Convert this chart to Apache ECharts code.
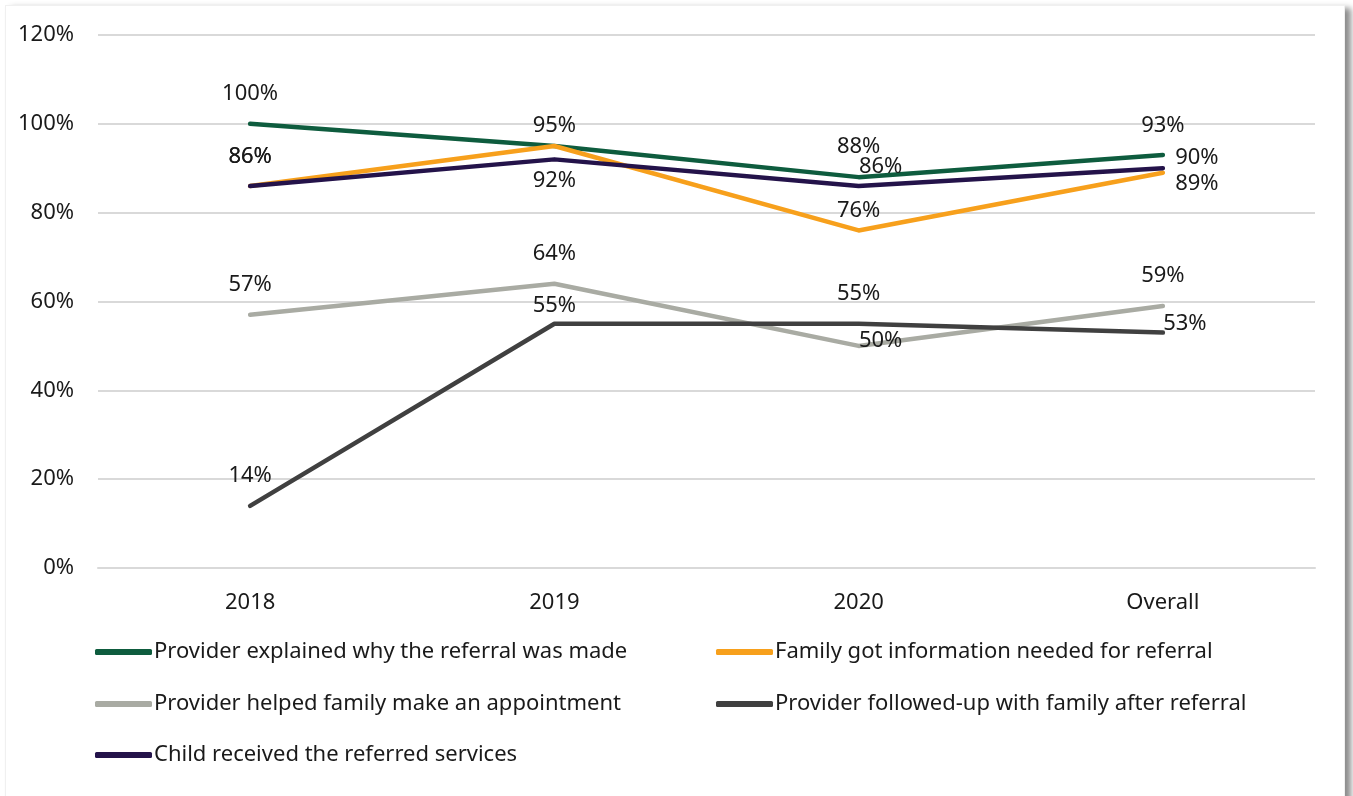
<!DOCTYPE html>
<html>
<head>
<meta charset="utf-8">
<script src="https://cdn.jsdelivr.net/npm/echarts@6/dist/echarts.min.js"></script>
<style>
  html, body { margin: 0; padding: 0; background: #ffffff; }
  #frame {
    position: absolute; left: 5px; top: 5px; width: 1338px; height: 820px;
    background: #ffffff; border: 1px solid #f0f0f0;
    box-shadow: 6px 3px 6px rgba(0,0,0,0.45);
  }
  #chart { position: absolute; left: 0; top: 0; width: 1353px; height: 796px; }
</style>
</head>
<body>
<div id="frame"></div>
<div id="chart"></div>
<script>
// Categories and yearly percentages for each referral step
const categories = ['2018', '2019', '2020', 'Overall'];
const yTicks = [0, 20, 40, 60, 80, 100, 120];

const explained   = [100, 95, 88, 93];
const gotInfo     = [86, 95, 76, 89];
const helpedAppt  = [57, 64, 50, 59];
const followedUp  = [14, 55, 55, 53];
const received    = [86, 92, 86, 90];

const seriesNames = [
  'Provider explained why the referral was made',
  'Family got information needed for referral',
  'Provider helped family make an appointment',
  'Provider followed-up with family after referral',
  'Child received the referred services'
];
const seriesValues = [explained, gotInfo, helpedAppt, followedUp, received];
const colors = ['#0e5c3e', '#f7a01c', '#a9aba3', '#404040', '#24134a'];

// Label offsets (dx, dy) from each point, so crowded labels stay readable;
// null hides a label that would sit exactly on top of another one.
const labelOffsets = [
  [[0, -30], [0, -20], [0, -30], [0, -29]],
  [[0, -29], null, [0, -20], [34, 11]],
  [[0, -30], [0, -30], [22, -5], [0, -30]],
  [[0, -30], [0, -18], [0, -30], [22, -9]],
  [[0, -29], [0, 21], [22, -19], [34, -11]]
];

const FONT = 'Noto Sans';
const FS = 22;
const TXT = '#1a1a1a';

const series = seriesValues.map((vals, si) => ({
  name: seriesNames[si],
  type: 'line',
  data: vals.map((v, i) => {
    const off = labelOffsets[si][i];
    return {
      value: v,
      label: off ? { offset: off } : { show: false }
    };
  }),
  symbol: 'circle',
  symbolSize: 1,
  showSymbol: true,
  itemStyle: { color: colors[si] },
  lineStyle: { color: colors[si], width: 4.5, cap: 'round', join: 'round' },
  label: {
    show: true,
    position: 'inside',
    formatter: p => p.value + '%',
    color: TXT,
    fontFamily: FONT,
    fontSize: FS
  },
  emphasis: { disabled: true },
  animation: false,
  z: 2 + si
}));

// One legend block per entry, laid out in two columns
const legendSlots = [[90, 636], [711, 636], [90, 688], [711, 688], [90, 739]];
const legends = seriesNames.map((n, i) => ({
  data: [{ name: n, icon: 'roundRect' }],
  left: legendSlots[i][0],
  top: legendSlots[i][1],
  itemWidth: 57,
  itemHeight: 6,
  itemGap: 0,
  selectedMode: false,
  textStyle: { fontFamily: FONT, fontSize: FS, color: TXT, padding: [0, 0, 0, -3] }
}));

const chart = echarts.init(document.getElementById('chart'), null, { renderer: 'canvas' });
chart.setOption({
  backgroundColor: 'transparent',
  animation: false,
  grid: { left: 98, right: 38, top: 35, bottom: 228, containLabel: false },
  legend: legends,
  xAxis: {
    type: 'category',
    data: categories,
    boundaryGap: true,
    axisLine: { show: true, lineStyle: { color: '#d9d9d9', width: 2 } },
    axisTick: { show: false },
    axisLabel: { color: TXT, fontFamily: FONT, fontSize: FS, margin: 24 }
  },
  yAxis: {
    type: 'value',
    min: yTicks[0],
    max: yTicks[yTicks.length - 1],
    interval: 20,
    axisLine: { show: false },
    axisTick: { show: false },
    splitLine: { lineStyle: { color: '#d9d9d9', width: 2 } },
    axisLabel: { color: TXT, fontFamily: FONT, fontSize: FS, margin: 24, formatter: v => v + '%' }
  },
  series: series
});
</script>
</body>
</html>
